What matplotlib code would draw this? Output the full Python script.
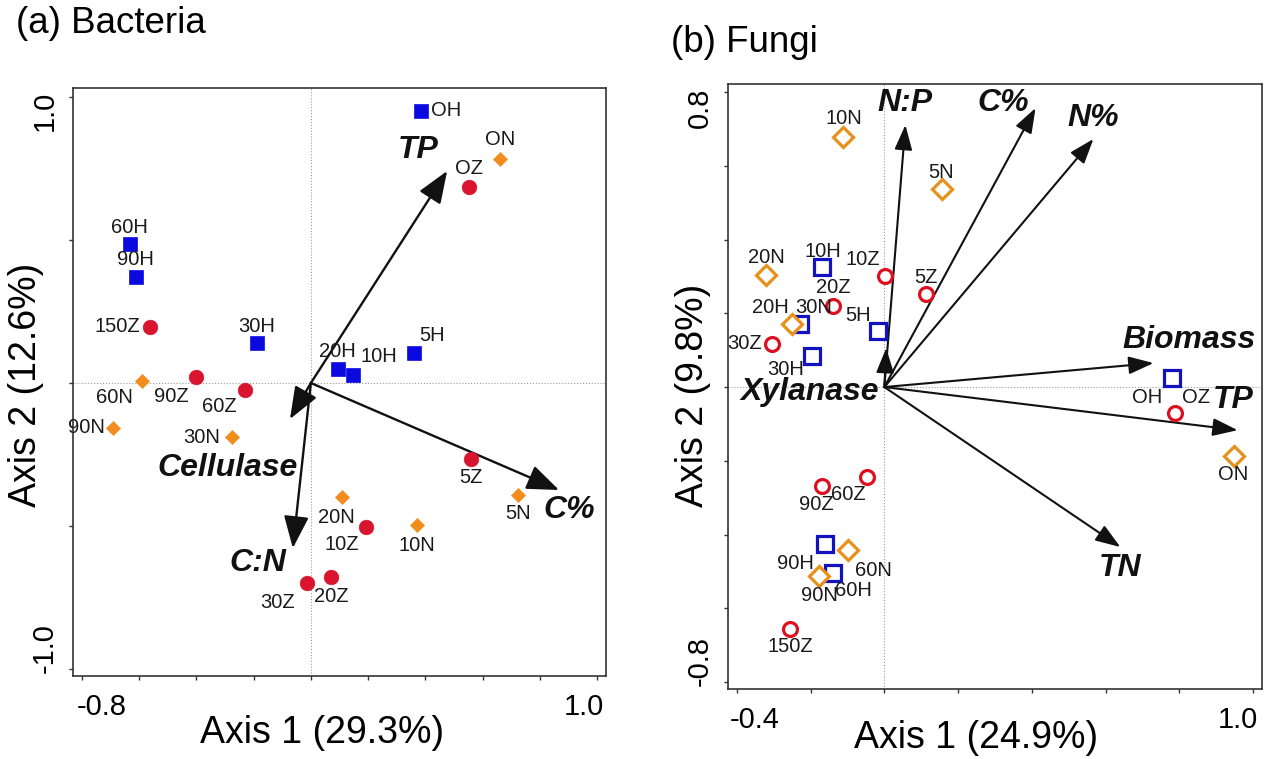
import matplotlib
matplotlib.use("Agg")
import matplotlib.pyplot as plt
from matplotlib.transforms import ScaledTranslation

plt.rcParams['font.family'] = ['Liberation Sans', 'DejaVu Sans']

# ---------------- (a) Bacteria ----------------
a_H_names = ["OH", "5H", "10H", "20H", "30H", "60H", "90H"]
a_H_x = [0.385, 0.360, 0.147, 0.094, -0.189, -0.633, -0.612]
a_H_y = [0.951, 0.105, 0.028, 0.049, 0.140, 0.486, 0.371]

a_Z_names = ["OZ", "5Z", "10Z", "20Z", "30Z", "60Z", "90Z", "150Z"]
a_Z_x = [0.552, 0.559, 0.192, 0.070, -0.014, -0.231, -0.402, -0.563]
a_Z_y = [0.685, -0.266, -0.503, -0.678, -0.699, -0.024, 0.021, 0.196]

a_N_names = ["ON", "5N", "10N", "20N", "30N", "60N", "90N"]
a_N_x = [0.661, 0.724, 0.371, 0.108, -0.276, -0.591, -0.692]
a_N_y = [0.783, -0.392, -0.497, -0.399, -0.189, 0.007, -0.157]

a_vec_names = ["TP", "C%", "C:N", "Cellulase"]
a_vec_x = [0.476, 0.867, -0.063, -0.073]
a_vec_y = [0.741, -0.374, -0.577, -0.126]

# ---------------- (b) Fungi ----------------
b_H_names = ["OH", "5H", "10H", "20H", "30H", "60H", "90H"]
b_H_x = [0.781, -0.016, -0.168, -0.228, -0.195, -0.138, -0.160]
b_H_y = [0.024, 0.152, 0.325, 0.171, 0.084, -0.504, -0.426]

b_Z_names = ["OZ", "5Z", "10Z", "20Z", "30Z", "60Z", "90Z", "150Z"]
b_Z_x = [0.787, 0.114, 0.003, -0.138, -0.304, -0.046, -0.168, -0.255]
b_Z_y = [-0.071, 0.252, 0.301, 0.220, 0.117, -0.244, -0.269, -0.656]

b_N_names = ["ON", "5N", "10N", "20N", "30N", "60N", "90N"]
b_N_x = [0.947, 0.155, -0.111, -0.320, -0.250, -0.098, -0.176]
b_N_y = [-0.187, 0.537, 0.678, 0.304, 0.171, -0.442, -0.513]

b_vec_names = ["N:P", "Xylanase", "C%", "N%", "Biomass", "TP", "TN"]
b_vec_x = [0.057, 0.005, 0.410, 0.567, 0.730, 0.958, 0.640]
b_vec_y = [0.711, 0.106, 0.757, 0.673, 0.065, -0.117, -0.434]

# label placement (pixels from the point; ha)
a_lab = {"OH": (10, 0, "left"), "ON": (0, 19, "center"), "OZ": (0, 19, "center"),
         "60H": (0, 16, "center"), "90H": (0, 17, "center"), "150Z": (-10, 0, "right"),
         "30H": (0, 16, "center"), "60N": (-27, -17, "center"), "90Z": (-24, -20, "center"),
         "60Z": (-25, -17, "center"), "90N": (-8, 0, "right"), "30N": (-12, 0, "right"),
         "20H": (0, 17, "center"), "10H": (26, 18, "center"), "5H": (18, 17, "center"),
         "5Z": (0, -18, "center"), "20N": (-5, -20, "center"), "10Z": (-24, -18, "center"),
         "10N": (0, -20, "center"), "5N": (0, -18, "center"), "20Z": (0, -20, "center"),
         "30Z": (-29, -19, "center")}
a_vlab = {"TP": (-29, 21), "C%": (10, -20), "C:N": (-35, -15), "Cellulase": (-62, -49)}

b_lab = {"10N": (0, 19, "center"), "5N": (0, 17, "center"), "20N": (0, 17, "center"),
         "10H": (0, 16, "center"), "10Z": (-23, 17, "center"), "5Z": (0, 17, "center"),
         "20Z": (0, 18, "center"), "20H": (-30, 17, "center"), "30N": (21, 17, "center"),
         "5H": (-20, 16, "center"), "30Z": (-10, 0, "right"), "30H": (-27, -13, "center"),
         "OH": (-25, -19, "center"), "OZ": (21, 16, "center"), "ON": (0, -19, "center"),
         "90Z": (-6, -18, "center"), "60Z": (-19, -17, "center"), "90H": (-30, -19, "center"),
         "60N": (25, -20, "center"), "90N": (0, -19, "center"), "60H": (20, -18, "center"),
         "150Z": (0, -18, "center")}
b_vlab = {"N:P": (0, 22), "Xylanase": (-76, -44), "C%": (-32, 5), "N%": (0, 21),
          "Biomass": (35, 23), "TP": (-4, 30), "TN": (0, -21)}

W, H = 1269, 759
fig = plt.figure(figsize=(W / 100, H / 100), dpi=100)
axA = fig.add_axes([73 / W, 1 - 676 / H, 533 / W, 588 / H])
axB = fig.add_axes([728 / W, 1 - 689 / H, 534 / W, 605 / H])


def shift(lbl, dx, dy):
    lbl.set_transform(lbl.get_transform() + ScaledTranslation(dx / 100, dy / 100, fig.dpi_scale_trans))


def frame(ax, xlim, ylim, xt, yt, xshift, yshift):
    ax.set_xlim(xlim)
    ax.set_ylim(ylim)
    ax.axhline(0, color="#9a9a9a", lw=0.8, ls=":", zorder=0)
    ax.axvline(0, color="#9a9a9a", lw=0.8, ls=":", zorder=0)
    for s in ax.spines.values():
        s.set_color("#333333")
        s.set_linewidth(1.2)
    ax.set_xticks(xt)
    ax.set_yticks(yt)
    ax.set_xticklabels([f"{xt[0]:.1f}"] + [""] * (len(xt) - 2) + [f"{xt[-1]:.1f}"])
    ax.set_yticklabels([f"{yt[0]:.1f}"] + [""] * (len(yt) - 2) + [f"{yt[-1]:.1f}"])
    ax.tick_params(direction="out", length=3, width=1, color="#333333",
                   labelsize=21, pad=9)
    ax.tick_params(axis="y", labelrotation=90, pad=7)
    xl = ax.get_xticklabels()
    shift(xl[0], xshift[0], 0)
    shift(xl[-1], xshift[1], 0)
    yl = ax.get_yticklabels()
    for lbl in yl:
        lbl.set_verticalalignment("center")
    shift(yl[0], 0, yshift[0])
    shift(yl[-1], 0, yshift[1])


def points(ax, xs, ys, names, marker, ms, face, edge, mew, lab):
    ax.plot(xs, ys, ls="none", marker=marker, ms=ms, mfc=face, mec=edge, mew=mew, zorder=4)
    for n, x, y in zip(names, xs, ys):
        dx, dy, ha = lab[n]
        ax.annotate(n, (x, y), xytext=(dx, dy), textcoords="offset pixels",
                    ha=ha, va="center", fontsize=14.5, color="#1a1a1a", zorder=5)


def vectors(ax, xs, ys, names, lab, ms, lw, hl, hw):
    for n, x, y in zip(names, xs, ys):
        ax.annotate("", xy=(x, y), xytext=(0, 0),
                    arrowprops=dict(arrowstyle=f"-|>,head_length={hl},head_width={hw}",
                                    mutation_scale=ms, lw=lw, color="#111111",
                                    shrinkA=0, shrinkB=0), zorder=3)
        dx, dy = lab[n]
        ax.annotate(n, (x, y), xytext=(dx, dy), textcoords="offset pixels",
                    ha="center", va="center", fontsize=23, fontweight="bold",
                    fontstyle="italic", color="#111111", zorder=5)


# panel a
frame(axA, (-0.831, 1.031), (-1.024, 1.031),
      [-0.8, -0.6, -0.4, -0.2, 0.0, 0.2, 0.4, 0.6, 0.8, 1.0],
      [-1.0, -0.5, 0.0, 0.5, 1.0], (20, -13), (21, -14))
vectors(axA, a_vec_x, a_vec_y, a_vec_names, a_vlab, 22, 1.7, 0.9, 0.35)
points(axA, a_H_x, a_H_y, a_H_names, "s", 10, "#0a0ae0", "#0a0ae0", 0.5, a_lab)
points(axA, a_Z_x, a_Z_y, a_Z_names, "o", 10.5, "#d9142e", "#d9142e", 0.5, a_lab)
points(axA, a_N_x, a_N_y, a_N_names, "D", 7, "#f28c1c", "#f28c1c", 0.5, a_lab)

# panel b
frame(axB, (-0.424, 1.024), (-0.819, 0.822),
      [-0.4, -0.2, 0.0, 0.2, 0.4, 0.6, 0.8, 1.0],
      [-0.8, -0.6, -0.4, -0.2, 0.0, 0.2, 0.4, 0.6, 0.8], (18, -15), (21, -16))
vectors(axB, b_vec_x, b_vec_y, b_vec_names, b_vlab, 17, 1.5, 0.9, 0.32)
points(axB, b_H_x, b_H_y, b_H_names, "s", 11.5, "white", "#1212c0", 2.3, b_lab)
points(axB, b_Z_x, b_Z_y, b_Z_names, "o", 10, "white", "#dd1020", 2.3, b_lab)
points(axB, b_N_x, b_N_y, b_N_names, "D", 10, "white", "#e8901c", 2.3, b_lab)

# axis titles
axA.set_xlabel("Axis 1 (29.3%)", fontsize=27)
axA.xaxis.set_label_coords(322 / W, 1 - 715 / H, transform=fig.transFigure)
axA.set_ylabel("Axis 2 (12.6%)", fontsize=27)
axA.yaxis.set_label_coords(44 / W, 1 - 385 / H, transform=fig.transFigure)
axB.set_xlabel("Axis 1 (24.9%)", fontsize=27)
axB.xaxis.set_label_coords(976 / W, 1 - 720 / H, transform=fig.transFigure)
axB.set_ylabel("Axis 2 (9.8%)", fontsize=27)
axB.yaxis.set_label_coords(711 / W, 1 - 395 / H, transform=fig.transFigure)

fig.text(16 / W, 1 - 33 / H, "(a) Bacteria", fontsize=26.5, va="baseline", ha="left")
fig.text(671 / W, 1 - 52 / H, "(b) Fungi", fontsize=26.5, va="baseline", ha="left")

fig.savefig("out.png", dpi=100)
